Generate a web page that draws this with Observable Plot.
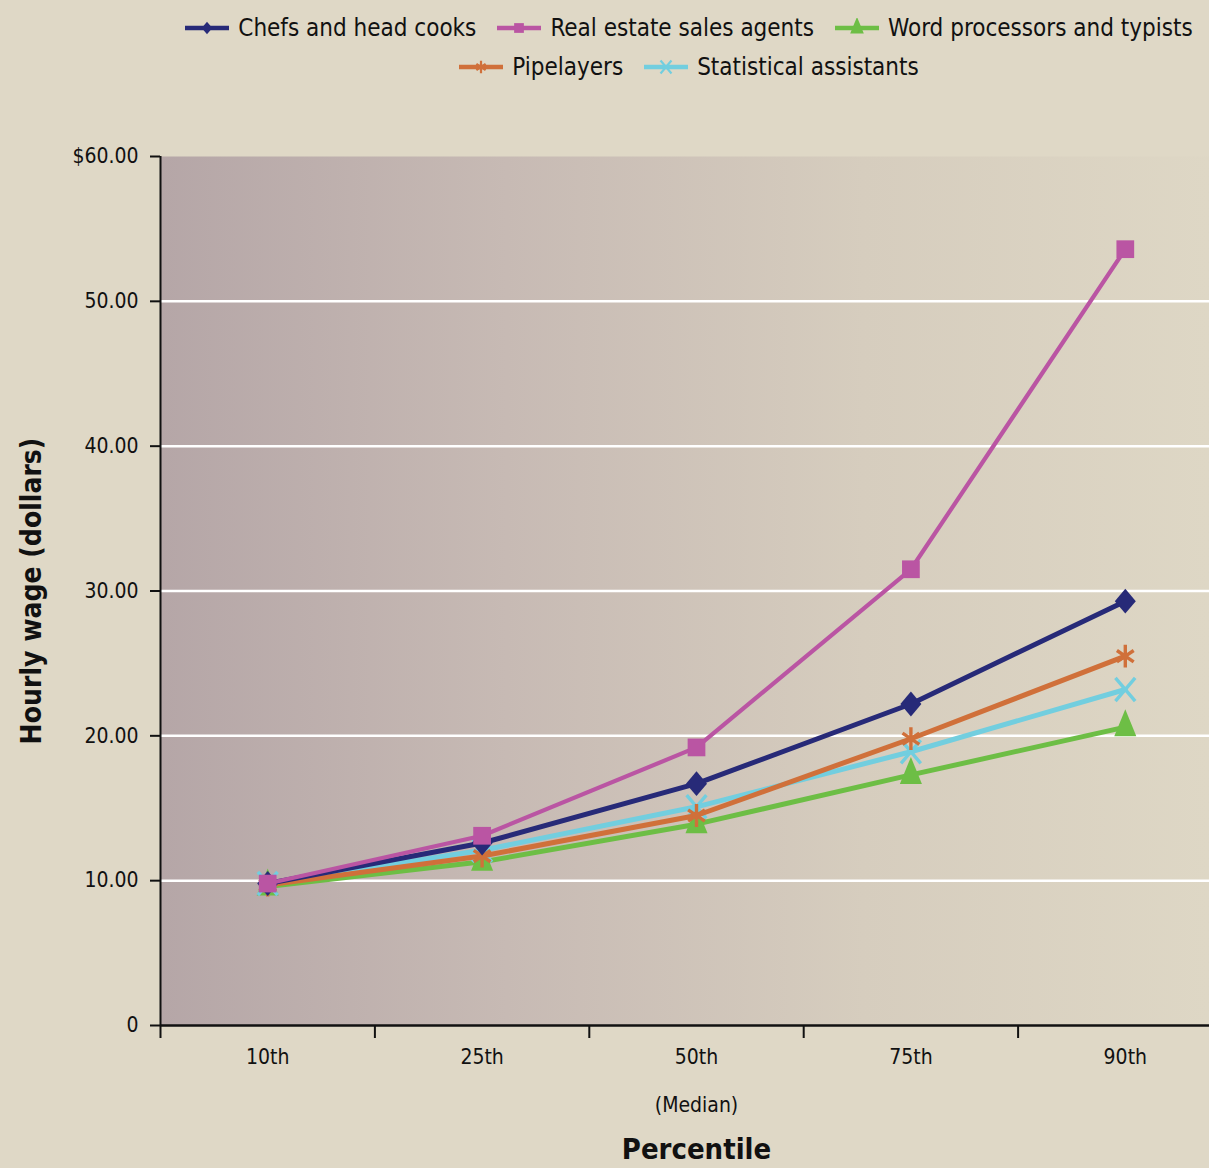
<!DOCTYPE html>
<html>
<head>
<meta charset="utf-8">
<script src="https://cdn.jsdelivr.net/npm/d3@7"></script>
<script src="https://cdn.jsdelivr.net/npm/@observablehq/plot@0.6"></script>
<style>
  html, body { margin: 0; padding: 0; background: #DFD8C6; }
  body { width: 1209px; height: 1168px; overflow: hidden; font-family: "DejaVu Sans Condensed", "DejaVu Sans", sans-serif; font-stretch: condensed; }
  #legend { height: 100px; box-sizing: border-box; padding-top: 8px; margin-left: 148px; width: 1082px; font-size: 24px; color: #111; }
  .row { display: flex; justify-content: center; gap: 21px; height: 39px; align-items: center; }
  .item { display: flex; align-items: center; gap: 9px; white-space: nowrap; }
  #chart svg { display: block; }
</style>
</head>
<body>
<div id="legend"></div>
<div id="chart"></div>
<script>
const categories = ["10th", "25th", "50th", "75th", "90th"];
const seriesNames = ["Chefs and head cooks", "Real estate sales agents", "Word processors and typists", "Pipelayers", "Statistical assistants"];
const chefs      = [9.8, 12.6, 16.7, 22.2, 29.3];
const realEstate = [9.8, 13.1, 19.2, 31.5, 53.6];
const wordProc   = [9.6, 11.3, 13.9, 17.3, 20.6];
const pipelayers = [9.7, 11.7, 14.5, 19.8, 25.5];
const statAssist = [9.8, 12.1, 15.1, 18.9, 23.2];
const yTicks = [0, 10, 20, 30, 40, 50, 60];
const xNote = "(Median)";
const xTitle = "Percentile";
const yTitle = "Hourly wage (dollars)";

const values = [chefs, realEstate, wordProc, pipelayers, statAssist];

// vertically stretched symbols (the reference is slightly condensed horizontally)
function stretch(sym, sx, sy) {
  return {
    draw(ctx, size) {
      const w = {
        moveTo: (x, y) => ctx.moveTo(x * sx, y * sy),
        lineTo: (x, y) => ctx.lineTo(x * sx, y * sy),
        closePath: () => ctx.closePath(),
        rect: (x, y, rw, rh) => {
          ctx.moveTo(x * sx, y * sy);
          ctx.lineTo((x + rw) * sx, y * sy);
          ctx.lineTo((x + rw) * sx, (y + rh) * sy);
          ctx.lineTo(x * sx, (y + rh) * sy);
          ctx.closePath();
        },
        arc: (x, y, r, a0, a1) => ctx.arc(x * sx, y * sy, r * sx, a0, a1)
      };
      sym.draw(w, size);
    }
  };
}
const diamondSym = stretch(d3.symbolDiamond2, 0.86, 1.02);
const squareSym = stretch(d3.symbolSquare, 1, 1);
const triangleSym = stretch(d3.symbolTriangle, 0.92, 1.3);
const asteriskSym = stretch(d3.symbolAsterisk, 0.85, 1.0);
const timesSym = stretch(d3.symbolTimes, 0.85, 1.0);

const styles = [
  {color: "#272A78", symbol: diamondSym, r: 11, filled: true, sw: 5},
  {color: "#BA55A3", symbol: squareSym, r: 10, filled: true, sw: 4.2},
  {color: "#6DBE45", symbol: triangleSym, r: 8.9, filled: true, sw: 5},
  {color: "#D0703A", symbol: asteriskSym, r: 10.8, filled: false, sw: 5},
  {color: "#72CEDF", symbol: timesSym, r: 10.6, filled: false, sw: 5}
];
const drawOrder = [2, 4, 3, 0, 1];

const rows = [];
seriesNames.forEach((name, s) => values[s].forEach((v, i) => rows.push({series: name, s, i, cat: categories[i], v})));

// Legend
const legend = d3.select("#legend");
[[0, 1, 2], [3, 4]].forEach(idx => {
  const row = legend.append("div").attr("class", "row");
  idx.forEach(s => {
    const st = styles[s];
    const item = row.append("div").attr("class", "item");
    const sv = item.append("svg").attr("width", 44).attr("height", 20);
    sv.append("line").attr("x1", 0).attr("x2", 44).attr("y1", 10).attr("y2", 10).attr("stroke", st.color).attr("stroke-width", 4.5);
    const sym = d3.symbol(st.symbol, st.filled ? 95 : 110)();
    sv.append("path").attr("d", sym).attr("transform", "translate(22,10)")
      .attr("fill", st.filled ? st.color : "none").attr("stroke", st.filled ? "none" : st.color).attr("stroke-width", 2.2);
    item.append("span").text(seriesNames[s]);
  });
});

const marks = [
  Plot.frame({fill: "url(#bgGrad)", stroke: "none"}),
  Plot.ruleY(yTicks.filter(d => d > 0 && d < 60), {stroke: "white", strokeWidth: 2.5}),
  Plot.axisY({ticks: yTicks, tickSize: 10, tickPadding: 12, fontSize: 21,
    tickFormat: d => d === 60 ? "$60.00" : d === 0 ? "0" : d.toFixed(2), stroke: "#111", strokeWidth: 2, label: null}),
  Plot.axisX({ticks: categories.map((_, i) => i), tickSize: 0, tickPadding: 24, fontSize: 21,
    tickFormat: i => categories[i], label: null}),
  Plot.axisX({ticks: categories.map((_, i) => i - 0.5), tickSize: 13, tickFormat: () => "", stroke: "#111", strokeWidth: 2, label: null}),
  Plot.ruleY([0], {stroke: "#111", strokeWidth: 2.5}),
  Plot.ruleX([-0.5], {stroke: "#111", strokeWidth: 2}),
  Plot.text([xNote], {x: () => 2, frameAnchor: "bottom", dy: 86, fontSize: 21, fill: "#111"}),
  Plot.text([xTitle], {x: () => 2, frameAnchor: "bottom", dy: 133, fontSize: 29, fontWeight: "bold", fill: "#111"}),
  Plot.text([yTitle], {frameAnchor: "left", textAnchor: "middle", dx: -128, rotate: -90, fontSize: 28, fontWeight: "bold", fill: "#111"})
];
drawOrder.forEach(s => {
  const st = styles[s];
  const data = rows.filter(d => d.s === s);
  marks.push(Plot.line(data, {x: "i", y: "v", stroke: st.color, strokeWidth: st.sw}));
  marks.push(Plot.dot(data, {x: "i", y: "v", symbol: st.symbol, r: st.r,
    fill: st.filled ? st.color : "none", stroke: st.filled ? "none" : st.color, strokeWidth: st.filled ? 0 : 3.4}));
});

const chart = Plot.plot({
  width: 1209,
  height: 1068,
  marginTop: 56,
  marginBottom: 143,
  marginLeft: 160,
  marginRight: 0,
  style: {background: "transparent", fontFamily: "'DejaVu Sans Condensed', 'DejaVu Sans', sans-serif", fontStretch: "condensed", color: "#111", overflow: "visible"},
  x: {type: "linear", domain: [-0.5, 4.5], range: [160, 1232]},
  y: {domain: [0, 60]},
  marks
});

const ns = "http://www.w3.org/2000/svg";
const defs = document.createElementNS(ns, "defs");
defs.innerHTML = `<linearGradient id="bgGrad" x1="0" x2="1" y1="0" y2="0">
  <stop offset="0" stop-color="#B5A6A7"/>
  <stop offset="0.33" stop-color="#C7BAB4"/>
  <stop offset="0.67" stop-color="#D6CDBE"/>
  <stop offset="1" stop-color="#DED7C5"/>
</linearGradient>`;
chart.insertBefore(defs, chart.firstChild);
document.getElementById("chart").appendChild(chart);
</script>
</body>
</html>
